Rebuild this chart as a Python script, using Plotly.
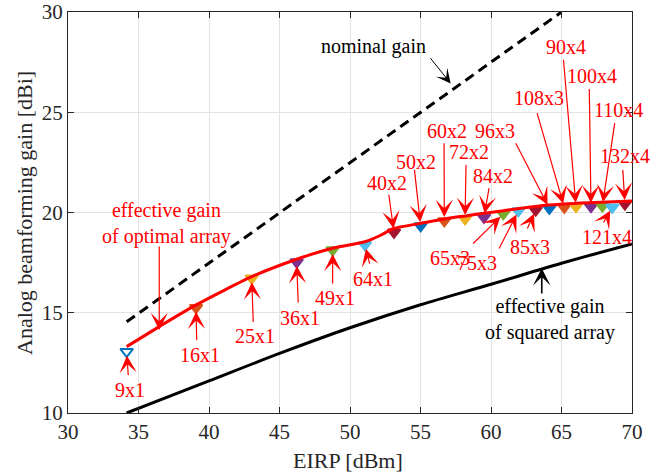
import plotly.graph_objects as go

# ---------------- data ----------------
# effective gain of squared array (black solid)
eirp_sq = [34.16, 40.0, 45.0, 50.0, 55.0, 60.0, 65.0, 70.0]
gain_sq = [10.0, 11.6, 12.97, 14.25, 15.4, 16.42, 17.47, 18.43]

# nominal gain (black dashed)
eirp_nom = [34.16, 65.0]
gain_nom = [14.55, 30.0]

# effective gain of optimal array (red curve)
eirp_opt = [34.16, 36.5, 39.08, 43.03, 46.22, 48.77, 51.06, 52.1, 53.1, 55.0,
            56.7, 58.2, 59.5, 60.9, 64.0, 66.9, 70.0]
gain_opt = [13.31, 14.32, 15.39, 16.8, 17.67, 18.22, 18.54, 18.84, 19.2, 19.46,
            19.68, 19.83, 19.96, 20.09, 20.37, 20.49, 20.57]

# array configurations (markers)
configs = ["9x1", "16x1", "25x1", "36x1", "49x1", "64x1", "40x2", "50x2", "60x2",
           "72x2", "84x2", "65x3", "75x3", "85x3", "96x3", "108x3", "90x4",
           "100x4", "110x4", "121x4", "132x4"]
eirp_cfg = [34.16, 39.08, 43.03, 46.22, 48.77, 51.06, 53.12, 55.01, 56.69, 58.16,
            59.5, 60.87, 61.94, 63.17, 64.14, 65.2, 66.03, 67.09, 67.9, 68.6, 69.5]
gain_cfg = [13.06, 15.25, 16.72, 17.53, 18.13, 18.38, 19.01, 19.33, 19.58, 19.68,
            19.76, 19.93, 20.08, 20.12, 20.21, 20.26, 20.29, 20.29, 20.32, 20.26, 20.42]

x_ticks = [30, 35, 40, 45, 50, 55, 60, 65, 70]
y_ticks = [10, 15, 20, 25, 30]

# ---------------- layout / styles ----------------
palette = ["#0072BD", "#D95319", "#EDB120", "#7E2F8E", "#77AC30", "#4DBEEE", "#A2142F"]
FONT = "Liberation Serif, Times New Roman, serif"
AX = "#262626"

# label placement: config -> (text x, text y, arrow tail x, arrow tail y), data coords
label_pos = {
    "9x1":   (34.40, 11.15, 34.28, 11.81),
    "16x1":  (39.36, 12.89, 39.13, 13.56),
    "25x1":  (43.26, 13.84, 43.14, 14.47),
    "36x1":  (46.45, 14.72, 46.33, 15.44),
    "49x1":  (48.94, 15.72, 48.77, 16.38),
    "64x1":  (51.63, 16.67, 51.42, 17.38),
    "40x2":  (52.60, 21.46, 52.74, 20.96),
    "50x2":  (54.68, 22.53, 54.56, 22.20),
    "60x2":  (56.90, 24.08, 56.67, 23.53),
    "72x2":  (58.46, 23.03, 58.23, 22.45),
    "84x2":  (60.12, 21.84, 59.88, 21.29),
    "65x3":  (57.09, 17.72, 58.63, 18.38),
    "75x3":  (58.99, 17.47, 60.52, 18.13),
    "85x3":  (62.77, 18.29, 62.53, 19.13),
    "96x3":  (60.28, 24.08, 61.70, 23.53),
    "108x3": (63.40, 25.70, 63.24, 25.03),
    "90x4":  (65.30, 28.27, 65.13, 27.69),
    "100x4": (67.14, 26.81, 66.97, 26.24),
    "110x4": (69.03, 25.11, 68.79, 24.53),
    "121x4": (68.21, 18.76, 67.92, 19.43),
    "132x4": (69.50, 22.82, 69.34, 22.20),
}

colors = [palette[i % len(palette)] for i in range(len(configs))]
symbols = ["triangle-down-open" if i == 0 else "triangle-down" for i in range(len(configs))]

fig = go.Figure()

fig.add_trace(go.Scatter(x=eirp_nom, y=gain_nom, mode="lines",
                         line=dict(color="black", width=3, dash="10px,6px"),
                         showlegend=False, hoverinfo="skip"))
fig.add_trace(go.Scatter(x=eirp_sq, y=gain_sq, mode="lines",
                         line=dict(color="black", width=3, shape="spline", smoothing=0.8),
                         showlegend=False, hoverinfo="skip"))
fig.add_trace(go.Scatter(x=eirp_cfg, y=gain_cfg, mode="markers",
                         marker=dict(symbol=symbols, size=11, color=colors,
                                     line=dict(color=colors, width=2)),
                         showlegend=False, text=configs))
fig.add_trace(go.Scatter(x=eirp_opt, y=gain_opt, mode="lines",
                         line=dict(color="#FF0000", width=3, shape="spline", smoothing=0.6),
                         showlegend=False, hoverinfo="skip"))

annotations = []
for i, c in enumerate(configs):
    tx, ty, ax_, ay_ = label_pos[c]
    annotations.append(dict(x=tx, y=ty, xref="x", yref="y", text=c, showarrow=False,
                            xanchor="center", yanchor="middle",
                            font=dict(family=FONT, size=20, color="#FF0000")))
    annotations.append(dict(x=eirp_cfg[i], y=gain_cfg[i], xref="x", yref="y",
                            ax=ax_, ay=ay_, axref="x", ayref="y", text="",
                            showarrow=True, arrowhead=3, arrowsize=2.4, arrowwidth=1.2,
                            arrowcolor="#FF0000", standoff=4))

# descriptive labels
annotations += [
    dict(x=37.0, y=19.43, xref="x", yref="y", text="effective gain<br>of optimal array",
         showarrow=False, font=dict(family=FONT, size=20, color="#FF0000")),
    dict(x=36.47, y=14.14, ax=36.47, ay=18.38, xref="x", yref="y", axref="x", ayref="y",
         text="", showarrow=True, arrowhead=3, arrowsize=2.4, arrowwidth=1.2,
         arrowcolor="#FF0000"),
    dict(x=51.70, y=28.30, xref="x", yref="y", text="nominal gain",
         showarrow=False, font=dict(family=FONT, size=20, color="black")),
    dict(x=57.14, y=26.44, ax=55.62, ay=27.77, xref="x", yref="y", axref="x", ayref="y",
         text="", showarrow=True, arrowhead=3, arrowsize=2.4, arrowwidth=1.0,
         arrowcolor="black"),
    dict(x=64.16, y=14.65, xref="x", yref="y", text="effective gain<br>of squared array",
         showarrow=False, font=dict(family=FONT, size=20, color="black")),
    dict(x=63.60, y=17.22, ax=63.60, ay=15.89, xref="x", yref="y", axref="x", ayref="y",
         text="", showarrow=True, arrowhead=3, arrowsize=1.8, arrowwidth=1.6,
         arrowcolor="black"),
    # axis titles
    dict(x=-0.0762, y=0.4988, xref="paper", yref="paper", text="Analog beamforming gain [dBi]",
         textangle=-90, showarrow=False, xanchor="center", yanchor="middle",
         font=dict(family=FONT, size=22, color=AX)),
    dict(x=0.4965, y=-0.1197, xref="paper", yref="paper", text="EIRP [dBm]",
         showarrow=False, xanchor="center", yanchor="middle",
         font=dict(family=FONT, size=22, color=AX)),
]

axis_common = dict(showgrid=True, gridcolor="#E3E3E3", gridwidth=1,
                   showline=True, linecolor=AX, linewidth=1, mirror="ticks",
                   ticks="inside", ticklen=6, tickcolor=AX, zeroline=False,
                   automargin=False,
                   tickfont=dict(family=FONT, size=21, color=AX))

fig.update_layout(
    width=672, height=476,
    margin=dict(l=68, r=40, t=12, b=63),
    paper_bgcolor="white", plot_bgcolor="white",
    xaxis=dict(range=[30, 70], tickvals=x_ticks, ticktext=[str(v) for v in x_ticks],
               **axis_common),
    yaxis=dict(range=[10, 30], tickvals=y_ticks, ticktext=[str(v) for v in y_ticks],
               **axis_common),
    annotations=annotations,
)

fig.write_html("out.html")
